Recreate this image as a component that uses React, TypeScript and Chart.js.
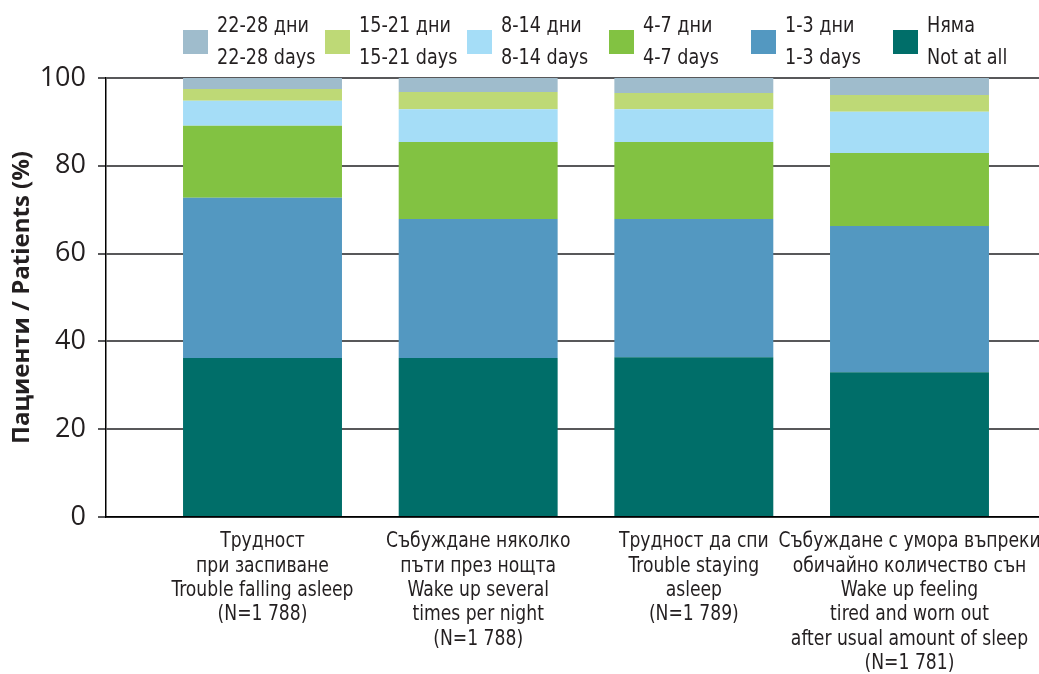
import React, { useEffect, useRef } from "react";
import { Chart, registerables } from "chart.js";

Chart.register(...registerables);

// ---------- DATA ----------
const categories: string[][] = [
  ["Трудност", "при заспиване", "Trouble falling asleep", "(N=1 788)"],
  ["Събуждане няколко", "пъти през нощта", "Wake up several", "times per night", "(N=1 788)"],
  ["Трудност да спи", "Trouble staying", "asleep", "(N=1 789)"],
  ["Събуждане с умора въпреки", "обичайно количество сън", "Wake up feeling", "tired and worn out", "after usual amount of sleep", "(N=1 781)"],
];

const seriesBg = ["Няма", "1-3 дни", "4-7 дни", "8-14 дни", "15-21 дни", "22-28 дни"];
const seriesEn = ["Not at all", "1-3 days", "4-7 days", "8-14 days", "15-21 days", "22-28 days"];

const notAtAll = [36.2, 36.2, 36.4, 33.0];
const days1to3 = [36.5, 31.7, 31.5, 33.3];
const days4to7 = [16.4, 17.5, 17.5, 16.6];
const days8to14 = [5.7, 7.5, 7.5, 9.4];
const days15to21 = [2.7, 3.9, 3.7, 3.8];
const days22to28 = [2.5, 3.2, 3.4, 3.9];

const yTickValues = [0, 20, 40, 60, 80, 100];
const yTitle = "Пациенти / Patients (%)";

// ---------- STYLE ----------
const seriesValues = [notAtAll, days1to3, days4to7, days8to14, days15to21, days22to28];
const seriesColors = ["#006e69", "#5398c1", "#82c242", "#a5ddf7", "#bed976", "#9fbccc"];
const narrow = "'Liberation Sans Narrow', 'DejaVu Sans Condensed', sans-serif";
const textColor = "#231f20";

const W = 1039;
const H = 674;
const PLOT_LEFT = 106;
const PLOT_TOP = 78;
const PLOT_BOTTOM = 517;
const X_MIN = -0.7257;
const X_MAX = 3.6005;
const X_LABEL_SQUEEZE = 0.91;
const X_LABEL_LINE = 24.3;
const X_LABEL_FIRST = 25;

const xLabelPlugin = {
  id: "xCategoryLabels",
  afterDraw(chart: any) {
    const ctx = chart.ctx as CanvasRenderingContext2D;
    const xs = chart.scales.x;
    const bottom = chart.chartArea.bottom;
    ctx.save();
    ctx.fillStyle = textColor;
    ctx.font = `21px ${narrow}`;
    ctx.textAlign = "center";
    ctx.textBaseline = "middle";
    categories.forEach((lines, i) => {
      const x = xs.getPixelForValue(i);
      lines.forEach((line, j) => {
        ctx.save();
        ctx.translate(x, bottom + X_LABEL_FIRST + j * X_LABEL_LINE);
        ctx.scale(X_LABEL_SQUEEZE, 1);
        ctx.fillText(line, 0, 0);
        ctx.restore();
      });
    });
    ctx.restore();
  },
};

export default function App() {
  const ref = useRef<HTMLCanvasElement | null>(null);

  useEffect(() => {
    document.body.style.margin = "0";
    const canvas = ref.current;
    if (!canvas) return;
    const chart = new Chart(canvas, {
      type: "bar",
      data: {
        datasets: seriesValues.map((vals, s) => ({
          label: seriesBg[s],
          data: vals.map((v, i) => ({ x: i, y: v })),
          backgroundColor: seriesColors[s],
          borderWidth: 0,
          barPercentage: 0.737,
          categoryPercentage: 1,
        })),
      },
      options: {
        responsive: false,
        animation: false,
        events: [],
        layout: { padding: { top: PLOT_TOP, left: 0, right: 0, bottom: 0 } },
        plugins: {
          legend: { display: false },
          tooltip: { enabled: false },
          title: { display: false },
        },
        scales: {
          x: {
            type: "linear",
            stacked: true,
            min: X_MIN,
            max: X_MAX,
            offset: false,
            grid: { display: false, drawTicks: false, offset: false },
            border: { display: true, color: "#000000", width: 1.5 },
            afterBuildTicks: (scale: any) => {
              scale.ticks = categories.map((_, i) => ({ value: i }));
            },
            afterFit: (scale: any) => {
              scale.height = H - PLOT_BOTTOM;
              scale.paddingLeft = 0;
              scale.paddingRight = 0;
            },
            ticks: { display: false },
          },
          y: {
            type: "linear",
            stacked: true,
            min: 0,
            max: 100,
            grid: {
              color: "#58585a",
              lineWidth: 2,
              tickLength: 8,
              drawTicks: true,
            },
            border: { display: true, color: "#000000", width: 1.5 },
            afterBuildTicks: (scale: any) => {
              scale.ticks = yTickValues.map((v) => ({ value: v }));
            },
            afterFit: (scale: any) => {
              scale.width = PLOT_LEFT;
            },
            ticks: {
              padding: 12,
              color: textColor,
              font: { family: "'Open Sans', sans-serif", size: 27 },
            },
            title: {
              display: true,
              text: yTitle,
              color: textColor,
              padding: { top: 8, bottom: 0 },
              font: { family: "'Open Sans', sans-serif", size: 24, weight: "bold" },
            },
          },
        },
      },
      plugins: [xLabelPlugin],
    } as any);
    return () => chart.destroy();
  }, []);

  const legendOrder = [5, 4, 3, 2, 1, 0];
  const legendText: React.CSSProperties = {
    position: "absolute",
    left: 34,
    whiteSpace: "nowrap",
    fontFamily: narrow,
    fontSize: 22,
    lineHeight: "26px",
    color: textColor,
    transform: "scaleX(0.89)",
    transformOrigin: "left center",
  };

  return (
    <div style={{ position: "absolute", left: 0, top: 0, width: W, height: H, background: "#fff", overflow: "hidden" }}>
      <canvas ref={ref} width={W} height={H} style={{ position: "absolute", left: 0, top: 0, width: W, height: H }} />
      {legendOrder.map((s, k) => {
        const left = 183 + k * 142;
        return (
          <div key={s} style={{ position: "absolute", left, top: 0 }}>
            <div style={{ position: "absolute", left: 0, top: 30, width: 25, height: 24, background: seriesColors[s] }} />
            <div style={{ ...legendText, top: 12 }}>{seriesBg[s]}</div>
            <div style={{ ...legendText, top: 44 }}>{seriesEn[s]}</div>
          </div>
        );
      })}
    </div>
  );
}
